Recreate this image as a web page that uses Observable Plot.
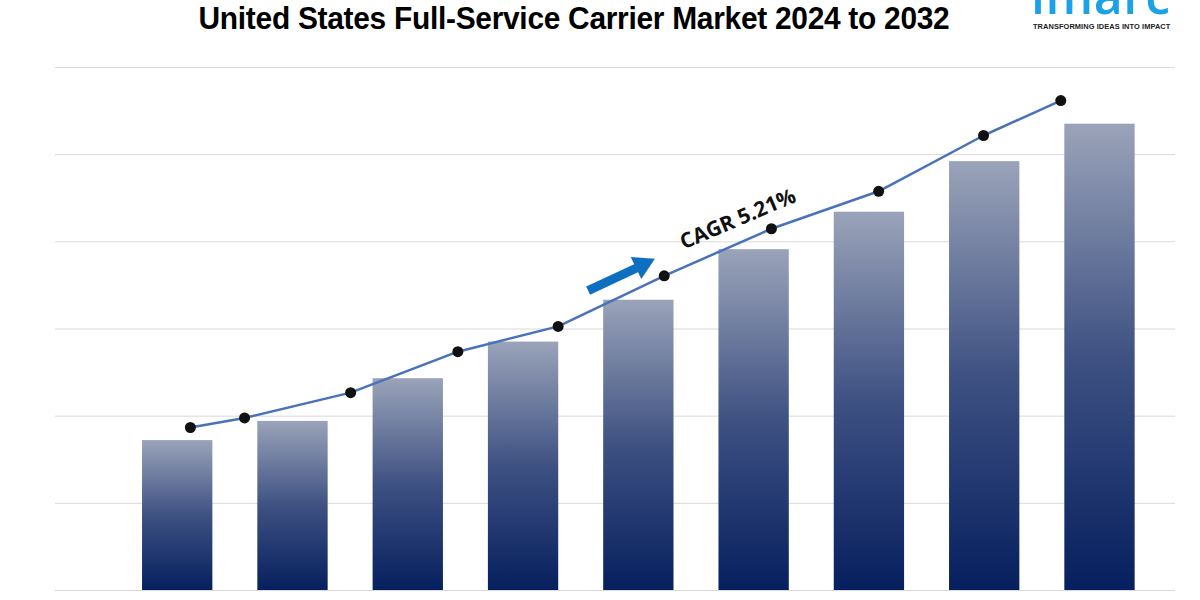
<!DOCTYPE html>
<html>
<head>
<meta charset="utf-8">
<script src="https://cdn.jsdelivr.net/npm/d3@7"></script>
<script src="https://cdn.jsdelivr.net/npm/@observablehq/plot@0.6"></script>
<style>
  html, body { margin: 0; padding: 0; background: #fff; }
  #wrap { position: relative; width: 1200px; height: 600px; overflow: hidden; }
  #title { height: 45px; position: relative; }
  #title h1 { margin: 0; position: absolute; left: 0; width: 1148px; top: 1px; text-align: center; white-space: nowrap;
    font-family: "Liberation Sans", Arial, sans-serif; font-weight: bold; font-size: 31px; line-height: 36px; color: #000;
    transform: scaleX(0.965); transform-origin: 574px 0; letter-spacing: -0.3px; }
  #logo { position: absolute; left: 1031px; top: 0; width: 160px; height: 45px; }
  #logo .word { position: absolute; left: 0; top: -30px; font-family: "Open Sans", "DejaVu Sans", sans-serif; font-weight: 600; font-size: 50px; color: #1ba1e6; line-height: 50px; letter-spacing: 0.5px; }
  #logo .tag { position: absolute; left: 2px; top: 22px; font-family: "Liberation Sans", Arial, sans-serif; font-weight: bold; font-size: 7.4px; line-height: 9px; color: #222; letter-spacing: 0.1px; white-space: nowrap; }
</style>
</head>
<body>
<div id="wrap">
  <div id="title">
    <h1>United States Full-Service Carrier Market 2024 to 2032</h1>
    <div id="logo"><div class="word">imarc</div><div class="tag">TRANSFORMING IDEAS INTO IMPACT</div></div>
  </div>
  <div id="chart"></div>
</div>
<script>
// Bar values (relative units, no axis labels in the original)
const years = [2024, 2025, 2026, 2027, 2028, 2029, 2030, 2031, 2032];
const barValues = [1.72, 1.94, 2.43, 2.85, 3.33, 3.91, 4.34, 4.92, 5.35];
// Trend line points (x in fractional years, y in same units)
const trendX = [2024.11, 2024.58, 2025.50, 2026.43, 2027.30, 2028.22, 2029.15, 2030.08, 2030.99, 2031.66];
const trendY = [1.87, 1.98, 2.27, 2.74, 3.03, 3.61, 4.15, 4.58, 5.22, 5.62];
const gridTicks = [0, 1, 2, 3, 4, 5, 6];
const cagrLabel = "CAGR 5.21%";

const bars = years.map((y, i) => ({year: y, value: barValues[i]}));
const trend = trendX.map((x, i) => ({x, y: trendY[i]}));

const plot = Plot.plot({
  width: 1200,
  height: 555,
  marginLeft: 55,
  marginRight: 25,
  marginTop: 22,
  marginBottom: 10,
  x: {domain: [2022.94, 2032.655], axis: null},
  y: {domain: [0, 6], axis: null},
  marks: [
    Plot.ruleY(gridTicks, {stroke: "#d9d9d9", strokeWidth: 1}),
    Plot.rect(bars, {x1: d => d.year - 0.305, x2: d => d.year + 0.305, y1: 0, y2: "value", fill: "url(#barGrad)"}),
    Plot.line(trend, {x: "x", y: "y", stroke: "#4a72b8", strokeWidth: 2.5}),
    Plot.dot(trend, {x: "x", y: "y", r: 5.5, fill: "#111", stroke: "none"}),
    Plot.link([{x1: 2027.56, y1: 3.44, x2: 2027.98, y2: 3.70}], {x1: "x1", y1: "y1", x2: "x2", y2: "y2", stroke: "#0e6fc1", strokeWidth: 9}),
    Plot.dot([{x: 2028.03, y: 3.735}], {x: "x", y: "y", symbol: "triangle", r: 9, fill: "#0e6fc1", stroke: "none", rotate: 64}),
    Plot.text([{x: 2028.86, y: 4.26, t: cagrLabel}], {x: "x", y: "y", text: "t", rotate: -23, fontSize: 21, fontWeight: "bold", fill: "#111", fontFamily: "Open Sans, DejaVu Sans, sans-serif"})
  ]
});

const svg = d3.select(plot);
const defs = svg.insert("defs", ":first-child");
const g = defs.append("linearGradient").attr("id", "barGrad").attr("x1", 0).attr("y1", 0).attr("x2", 0).attr("y2", 1);
g.append("stop").attr("offset", "0%").attr("stop-color", "#9aa3b9");
g.append("stop").attr("offset", "50%").attr("stop-color", "#3e5182");
g.append("stop").attr("offset", "100%").attr("stop-color", "#061f5e");
document.getElementById("chart").appendChild(plot);
</script>
</body>
</html>
